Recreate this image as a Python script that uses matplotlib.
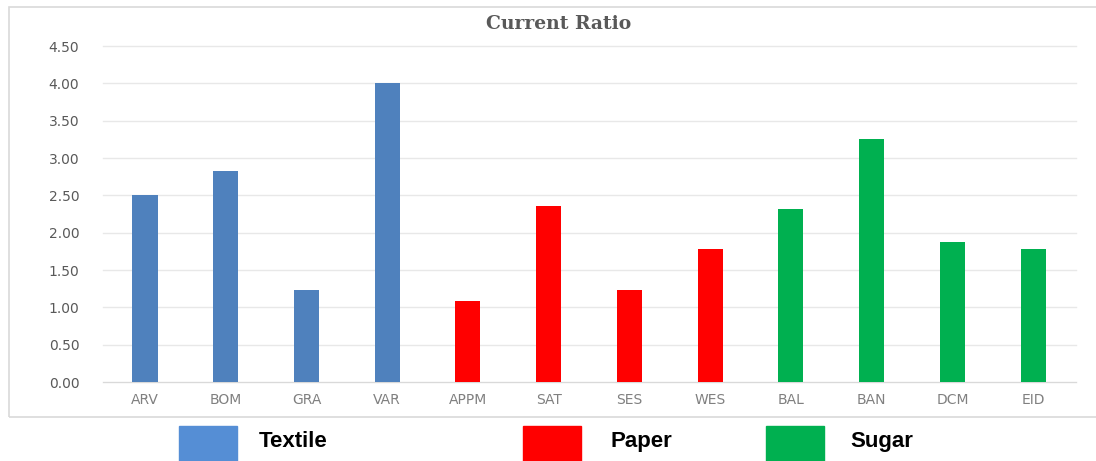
import matplotlib.pyplot as plt
from matplotlib.patches import Rectangle

# data
companies = ['ARV', 'BOM', 'GRA', 'VAR', 'APPM', 'SAT', 'SES', 'WES', 'BAL', 'BAN', 'DCM', 'EID']
ratios = [2.50, 2.83, 1.23, 4.00, 1.08, 2.36, 1.23, 1.78, 2.32, 3.25, 1.87, 1.78]
sectors = ['Textile', 'Textile', 'Textile', 'Textile', 'Paper', 'Paper', 'Paper', 'Paper',
           'Sugar', 'Sugar', 'Sugar', 'Sugar']
sector_names = ['Textile', 'Paper', 'Sugar']
bar_colors = {'Textile': '#4f81bd', 'Paper': '#ff0000', 'Sugar': '#00b050'}
legend_colors = {'Textile': '#558ed5', 'Paper': '#ff0000', 'Sugar': '#00b050'}
yticks = [0, 0.5, 1.0, 1.5, 2.0, 2.5, 3.0, 3.5, 4.0, 4.5]

plt.rcParams['font.family'] = 'DejaVu Sans'

W, H = 1096, 461
fig = plt.figure(figsize=(W / 100, H / 100), dpi=100)
fig.set_facecolor('white')

# 外框
fig.patches.append(Rectangle((9 / W, 1 - 417 / H), 1.2, (417 - 7) / H,
                             transform=fig.transFigure, fill=False,
                             edgecolor='#d9d9d9', linewidth=1.2))

ax = fig.add_axes([103 / W, 1 - 382 / H, (1076 - 103) / W, (382 - 46) / H])
x = list(range(len(companies)))
ax.bar(x, ratios, width=0.31, color=[bar_colors[s] for s in sectors], zorder=3)

ax.set_xlim(-0.52, 11.53)
ax.set_ylim(0, 4.5)
ax.set_yticks(yticks)
ax.set_yticklabels(['%.2f' % v for v in yticks], color='#595959', fontsize=10,
                   family='DejaVu Sans')
ax.set_xticks(x)
ax.set_xticklabels(companies, color='#808080', fontsize=10, family='DejaVu Sans')

for s in ['top', 'right', 'left']:
    ax.spines[s].set_visible(False)
ax.spines['bottom'].set_color('#d9d9d9')
ax.tick_params(axis='both', length=0)
ax.tick_params(axis='y', pad=17)
ax.tick_params(axis='x', pad=8)
ax.grid(axis='y', color='#e8e8e8', linewidth=1, zorder=0)
for gl in ax.get_ygridlines():
    gl.set_clip_on(False)

fig.text(559 / W, 1 - 24 / H, 'Current Ratio', ha='center', va='center',
         fontsize=13.5, fontweight='bold', color='#595959', family='DejaVu Serif')

# 图例
legend_x = [179, 523, 766]
text_x = [259, 610, 850]
for name, px, tx in zip(sector_names, legend_x, text_x):
    fig.patches.append(Rectangle((px / W, 0), 58 / W, (461 - 426) / H,
                                 transform=fig.transFigure, color=legend_colors[name]))
    fig.text(tx / W, 1 - 441 / H, name, ha='left', va='center', fontsize=16,
             fontweight='bold', color='black', family='Liberation Sans')

plt.savefig('out.png', dpi=100)
